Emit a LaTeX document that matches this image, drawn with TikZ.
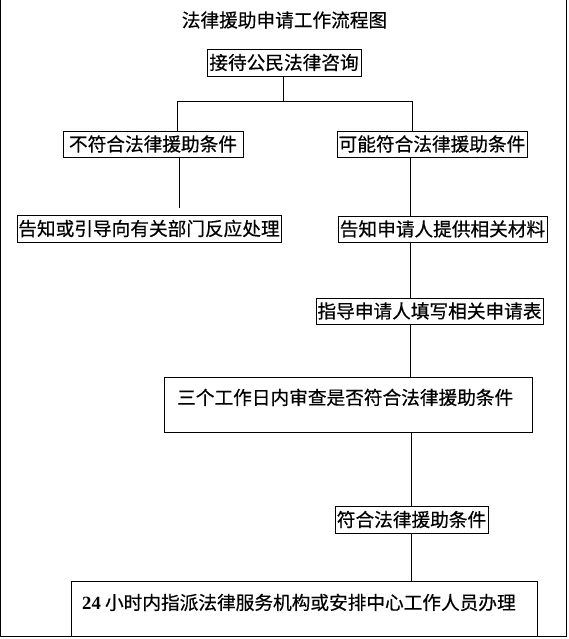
\documentclass[tikz,border=0pt]{standalone}
\usepackage{fontspec}
\newfontfamily\cjk[FakeBold=0.5]{Noto Sans CJK SC}
\newfontfamily\latinserif{Liberation Serif}
\begin{document}
\begin{tikzpicture}[x=0.75pt,y=-0.75pt,
  every node/.style={font=\cjk\fontsize{14}{16}\selectfont},
  flowbox/.style 2 args={draw, line width=0.75pt, inner sep=0pt,
     minimum width=#1*0.75pt, minimum height=#2*0.75pt},
  link/.style={line width=0.75pt},
  titletext/.style={font=\cjk\fontsize{14}{16}\selectfont}]
\useasboundingbox (0,0) rectangle (568,639);
% frame
\draw[link] (0.5,0) -- (0.5,636.5) -- (566.5,636.5) -- (566.5,0);
% title
\node[titletext] (title) at (284.5,20) {法律援助申请工作流程图};
% boxes
\node[flowbox={154}{27}] (a) at (284,62.5) {接待公民法律咨询};
\node[flowbox={180}{26}] (b) at (153,144) {不符合法律援助条件};
\node[flowbox={190}{26}] (c) at (432,144) {可能符合法律援助条件};
\node[flowbox={264}{27}] (d) at (149,228.5) {告知或引导向有关部门反应处理};
\node[flowbox={209}{26}] (e) at (442.5,229) {告知申请人提供相关材料};
\node[flowbox={227}{26}] (f) at (429.5,311) {指导申请人填写相关申请表};
\node[flowbox={368}{55},
  label={[anchor=base west, xshift=6.75pt, yshift=-21pt]north west:三个工作日内审查是否符合法律援助条件}]
  (g) at (348,404.5) {};
\node[flowbox={153}{27}] (h) at (411.5,519.5) {符合法律援助条件};
\node[flowbox={466}{55},
  label={[anchor=base west, xshift=5.25pt, yshift=-21.75pt]north west:{{\latinserif\bfseries 24} 小时内指派法律服务机构或安排中心工作人员办理}}]
  (i) at (304,608.5) {};
% connector coordinates
\coordinate (jm) at (283,101);
\coordinate (jl) at (177,101);
\coordinate (jr) at (412,101);
\coordinate (dl) at (179,208);
\coordinate (colA) at (410,0);
\coordinate (colB) at (411,0);
% connectors
\draw[link] (jm |- a.south) -- (jm);
\draw[link] (jl |- b.north) -- (jl) -- (jr) -- (jr |- c.north);
\draw[link] (dl |- b.south) -- (dl);
\draw[link] (colA |- c.south) -- (colA |- e.north);
\draw[link] (colA |- e.south) -- (colA |- f.north);
\draw[link] (colA |- f.south) -- (colA |- g.north);
\draw[link] (colB |- g.south) -- (colB |- h.north);
\draw[link] (colB |- h.south) -- (colB |- i.north);
\end{tikzpicture}
\end{document}
